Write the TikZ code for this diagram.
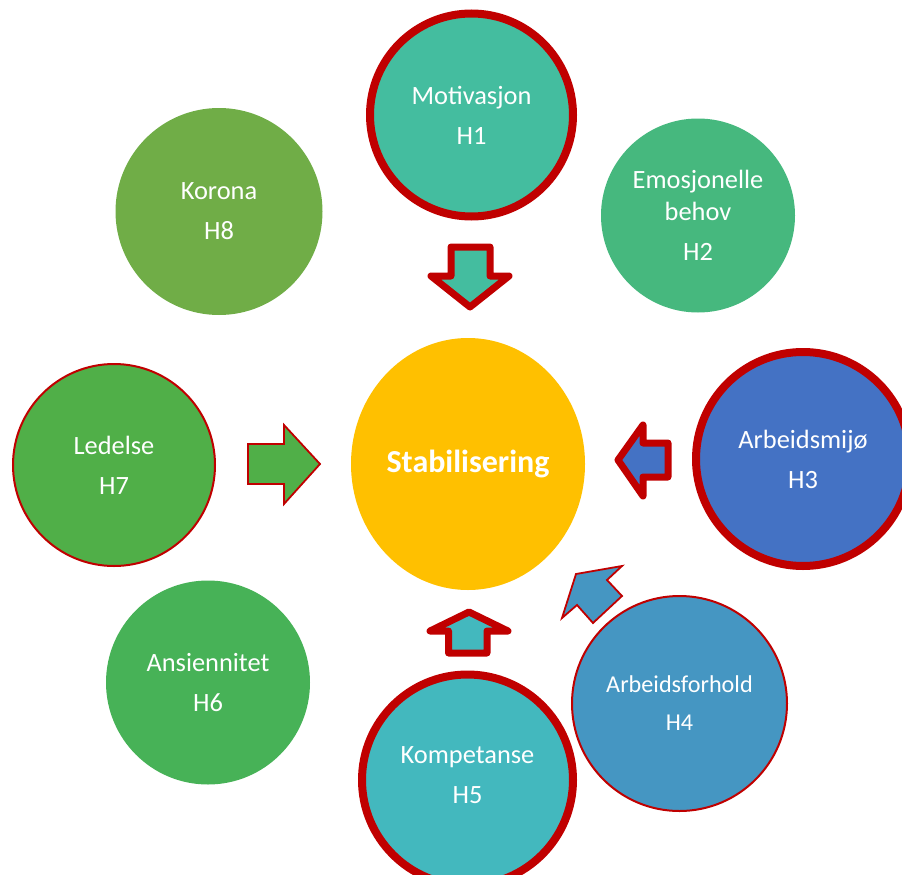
\documentclass[tikz,border=0pt]{standalone}
\usepackage{fontspec}
\setmainfont{Carlito}
\usetikzlibrary{shapes.geometric}
\definecolor{bred}{HTML}{C00000}
\definecolor{cA}{HTML}{44BD9F}
\definecolor{cB}{HTML}{46B87E}
\definecolor{cC}{HTML}{4472C4}
\definecolor{cD}{HTML}{4596C2}
\definecolor{cE}{HTML}{43B8BE}
\definecolor{cF}{HTML}{47B257}
\definecolor{cG}{HTML}{50AF48}
\definecolor{cH}{HTML}{70AD47}
\definecolor{cS}{HTML}{FFC000}
\tikzset{
  bubble/.style={circle, inner sep=0pt, text=white, align=center,
    font=\fontsize{26.4}{32}\selectfont},
  thickrim/.style={draw=bred, line width=8pt},
  thinrim/.style={draw=bred, line width=2pt},
  thickarrow/.style={draw=bred, line width=7pt, line join=round},
  thinarrow/.style={draw=bred, line width=1.8pt, line join=miter},
}
\begin{document}
\begin{tikzpicture}[x=1pt,y=-1pt]
\useasboundingbox (0,0) rectangle (902,875);
\clip (0,0) rectangle (902,875);

% circles
\node[bubble, thickrim, fill=cA, minimum size=203pt] (h1) at (471.5,115) {Motivasjon\\[8pt]H1};
\node[bubble, fill=cB, minimum size=194pt] (h2) at (698,215.5) {Emosjonelle\\behov\\[8pt]H2};
\node[bubble, thickrim, fill=cC, minimum size=214pt] (h3) at (803,459) {Arbeidsmijø\\[8pt]H3};
\node[bubble, thinrim, fill=cD, minimum size=215pt, font=\fontsize{24.2}{30}\selectfont] (h4) at (679.5,703.5) {Arbeidsforhold\\[8pt]H4};
\node[bubble, thickrim, fill=cE, minimum size=211pt] (h5) at (467.5,780) {};
\node[bubble] (h5t) at (467.5,775) {Kompetanse\\[8pt]H5};
\node[bubble, fill=cF, minimum size=204pt] (h6) at (208,682.5) {Ansiennitet\\[8pt]H6};
\node[bubble, thinrim, fill=cG, minimum size=202pt] (h7) at (114,465) {Ledelse\\[8pt]H7};
\node[bubble, fill=cH, minimum size=207pt] (h8) at (219,211.5) {Korona\\[8pt]H8};

% centre
\node[ellipse, fill=cS, inner sep=0pt, minimum width=234pt, minimum height=252pt,
  text=white, font=\fontsize{32}{38}\selectfont\bfseries] (st) at (468,464) {Stabilisering};

% arrows
% down arrow from H1
\draw[thickarrow, fill=cA] (451,247) -- (490,247) -- (490,276) -- (509,276)
  -- (470,307) -- (431,276) -- (451,276) -- cycle;
% right arrow from H7
\draw[thinarrow, fill=cG] (248,444) -- (284,444) -- (284,425) -- (320,464)
  -- (284,504) -- (284,484) -- (248,484) -- cycle;
% left arrow from H3
\draw[thickarrow, fill=cC] (668,443) -- (643,443) -- (643,425) -- (618,460)
  -- (643,496) -- (643,477) -- (668,477) -- cycle;
% up arrow from H5
\draw[thickarrow, fill=cE] (448.5,653) -- (487,653) -- (487,631) -- (508,631)
  -- (469,612) -- (430,631) -- (448.5,631) -- cycle;
% diagonal arrow from H4
\draw[thinarrow, fill=cD] (576,574) -- (622,566) -- (607,580) -- (622,596)
  -- (593,623) -- (577,605) -- (562,618) -- cycle;
\end{tikzpicture}
\end{document}
